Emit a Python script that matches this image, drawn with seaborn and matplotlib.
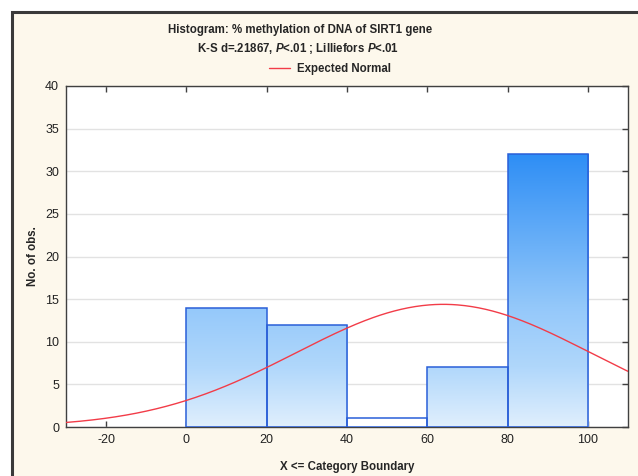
import numpy as np
import pandas as pd
import seaborn as sns
import matplotlib
matplotlib.use("Agg")
import matplotlib.pyplot as plt
from matplotlib import font_manager
from matplotlib.colors import LinearSegmentedColormap
from matplotlib.patches import Rectangle
from matplotlib.lines import Line2D

# ---- data ----
bin_edges = [0, 20, 40, 60, 80, 100]
counts = [14, 12, 1, 7, 32]
x_ticks = [-20, 0, 20, 40, 60, 80, 100]
y_ticks = [0, 5, 10, 15, 20, 25, 30, 35, 40]
normal_mean = 64.0
normal_sd = 36.6
n_obs = sum(counts)
title1 = "Histogram: % methylation of DNA of SIRT1 gene"
title2 = r"K-S d=.21867, $\mathit{P}$<.01 ; Lilliefors $\mathit{P}$<.01"
legend_label = "Expected Normal"
xlabel = "X <= Category Boundary"
ylabel = "No. of obs."

sns.set_theme(style="white")
names = {f.name for f in font_manager.fontManager.ttflist}
narrow = "Liberation Sans Narrow" if "Liberation Sans Narrow" in names else "Liberation Sans"
plt.rcParams["font.family"] = ["Liberation Sans", "DejaVu Sans"]
plt.rcParams["axes.unicode_minus"] = False
plt.rcParams["mathtext.fontset"] = "custom"
plt.rcParams["mathtext.rm"] = f"{narrow}:bold"
plt.rcParams["mathtext.it"] = f"{narrow}:italic:bold"
bold_size = 9.5 if narrow == "Liberation Sans Narrow" else 8.3

W, H = 638, 476
fig = plt.figure(figsize=(W / 100, H / 100), dpi=100, facecolor="white")

# outer cream panel with dark border
panel = Rectangle((12 / W, -0.1), 1.2, 1 - 12 / H + 0.1, transform=fig.transFigure,
                  facecolor="#FDF8EC", edgecolor="#3a3a3a", linewidth=2.2, zorder=-10)
fig.patches.append(panel)

ax = fig.add_axes([66 / W, 1 - 427 / H, (628 - 66) / W, (427 - 86) / H])
ax.set_zorder(5)
ax.set_facecolor("white")

centers = [(a + b) / 2 for a, b in zip(bin_edges[:-1], bin_edges[1:])]
df = pd.DataFrame({"x": centers, "w": counts})
sns.histplot(data=df, x="x", weights="w", bins=bin_edges, ax=ax,
             element="bars", fill=True, facecolor="none", edgecolor="#2a5fd8",
             linewidth=1.1, zorder=3)

cmap = LinearSegmentedColormap.from_list(
    "bargrad", [(0.0, "#e0effd"), (0.22, "#b0d7fb"), (0.44, "#94c8fa"), (1.0, "#2e8ef5")])
grad_top = max(counts)
grad = np.linspace(0, 1, 256).reshape(-1, 1)
for p in ax.patches:
    h = p.get_height()
    x0 = p.get_x()
    p.set_facecolor("none")
    p.set_zorder(4)
    if h < 2:
        p.set_facecolor("white")
        p.set_zorder(3)
        continue
    im = ax.imshow(grad, extent=(x0, x0 + p.get_width(), 0, grad_top), origin="lower",
                   cmap=cmap, aspect="auto", zorder=2, interpolation="bilinear")
    im.set_clip_path(p)

xs = np.linspace(-30, 110, 400)
ys = n_obs * (bin_edges[1] - bin_edges[0]) * np.exp(-0.5 * ((xs - normal_mean) / normal_sd) ** 2) / (normal_sd * np.sqrt(2 * np.pi))
sns.lineplot(x=xs, y=ys, ax=ax, color="#f23c48", linewidth=1.0, zorder=5, label=legend_label, legend=False)

ax.set_xlim(-30, 110)
ax.set_ylim(0, 40)
ax.set_xticks(x_ticks)
ax.set_yticks(y_ticks)
ax.grid(axis="y", color="#e2e2e2", linewidth=1.0, zorder=0)
ax.set_axisbelow(True)
for s in ax.spines.values():
    s.set_color("#404040")
    s.set_linewidth(1.0)
    s.set_visible(True)
ax.tick_params(axis="both", labelsize=9, colors="#404040", labelcolor="#222222", width=1, pad=5)
ax.tick_params(axis="x", bottom=True, top=True, direction="in", length=4)
ax.tick_params(axis="y", left=False, right=True, direction="in", length=4)
ax.set_xlabel(xlabel, fontsize=bold_size, fontweight="bold", family=narrow, labelpad=11)
ax.set_ylabel(ylabel, fontsize=bold_size, fontweight="bold", family=narrow, labelpad=4)

fig.text(300 / W, 1 - 30 / H, title1, ha="center", va="center", fontsize=bold_size,
         fontweight="bold", family=narrow)
fig.text(298 / W, 1 - 49 / H, title2, ha="center", va="center", fontsize=bold_size,
         fontweight="bold", family=narrow)
handle = Line2D([], [], color="#f23c48", linewidth=1.0)
leg = fig.legend([handle], [legend_label], loc="center", bbox_to_anchor=(330 / W, 1 - 69 / H),
                 frameon=False, handlelength=1.8, handletextpad=0.6,
                 prop={"family": narrow, "weight": "bold", "size": bold_size})

fig.savefig("out.png", dpi=100, facecolor=fig.get_facecolor())
